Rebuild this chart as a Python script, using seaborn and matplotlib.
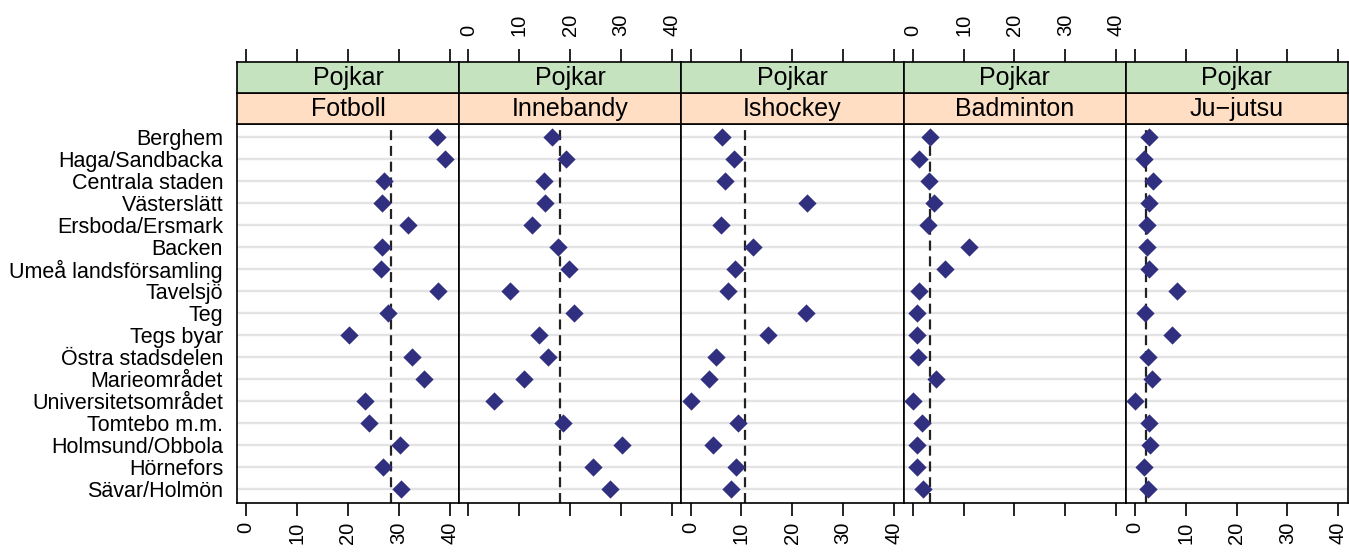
import matplotlib
matplotlib.use("Agg")
import matplotlib.pyplot as plt
import seaborn as sns
import pandas as pd

# ---------------- data ----------------
areas = ["Berghem", "Haga/Sandbacka", "Centrala staden", "Västerslätt",
         "Ersboda/Ersmark", "Backen", "Umeå landsförsamling", "Tavelsjö",
         "Teg", "Tegs byar", "Östra stadsdelen", "Marieområdet",
         "Universitetsområdet", "Tomtebo m.m.", "Holmsund/Obbola",
         "Hörnefors", "Sävar/Holmön"]
sports = ["Fotboll", "Innebandy", "Ishockey", "Badminton", "Ju\u2212jutsu"]
gender = "Pojkar"

fotboll = [37.5, 39.2, 27.2, 26.8, 31.9, 26.7, 26.5, 37.8, 27.9, 20.2,
           32.6, 34.9, 23.3, 24.2, 30.2, 26.9, 30.4]
innebandy = [16.5, 19.3, 14.9, 15.1, 12.5, 17.6, 19.7, 8.2, 20.8, 13.8,
             15.6, 11.0, 5.0, 18.6, 30.3, 24.6, 27.9]
ishockey = [6.1, 8.6, 6.7, 22.9, 5.9, 12.3, 8.7, 7.3, 22.7, 15.3,
            5.0, 3.6, 0.0, 9.4, 4.5, 8.9, 8.0]
badminton = [3.4, 1.2, 3.2, 4.1, 3.0, 11.1, 6.3, 1.2, 0.9, 0.9,
             1.1, 4.6, 0.0, 1.9, 0.9, 0.9, 2.0]
jujutsu = [2.8, 1.7, 3.6, 2.8, 2.4, 2.4, 2.8, 8.3, 1.9, 7.3,
           2.6, 3.4, 0.0, 2.7, 3.0, 1.8, 2.6]
reference = [28.4, 18.1, 10.8, 3.3, 2.1]   # dashed reference lines
x_ticks = [0, 10, 20, 30, 40]

series = [fotboll, innebandy, ishockey, badminton, jujutsu]
df = pd.concat([pd.DataFrame({"area": areas, "value": v, "sport": s})
                for s, v in zip(sports, series)], ignore_index=True)

# ---------------- style ----------------
sns.set_theme(style="white")
plt.rcParams['font.family'] = ['Liberation Sans', 'DejaVu Sans']

W, H = 1349, 552
fig = plt.figure(figsize=(W / 100, H / 100), dpi=100)

def fx(px):
    return px / W

def fy(py):
    return 1 - py / H

left0, right = 237, 1348
pw = (right - left0) / 5
ptop, pbot = 124, 502.5
orange_top = 93
green_top = 62

marker_col = "#312F7F"
green = "#C6E3C0"
orange = "#FFDEC4"
spine_lw = 1.2
xlim = (-1.8, 41.9)
tick_fs = 14.5

for i, sport in enumerate(sports):
    x0 = left0 + i * pw
    ax = fig.add_axes([fx(x0), fy(pbot), pw / W, (pbot - ptop) / H])
    sub = df[df["sport"] == sport]
    sns.stripplot(data=sub, x="value", y="area", order=areas, orient="h",
                  jitter=False, marker="D", size=9.3, color=marker_col,
                  linewidth=0, ax=ax, zorder=3)
    ax.axvline(reference[i], color="#222222", lw=1.6, ls=(0, (4.5, 2.6)), zorder=2)
    ax.set_xlim(*xlim)
    ax.set_ylim(len(areas) - 1 + 0.6, -0.6)
    ax.set_xticks(x_ticks)
    ax.set_xticklabels([str(t) for t in x_ticks], rotation=90)
    ax.set_xlabel("")
    ax.set_ylabel("")
    ax.yaxis.grid(True, color="#E3E3E3", lw=1.7)
    ax.xaxis.grid(False)
    ax.set_axisbelow(True)
    ax.tick_params(axis="x", bottom=True, top=False, direction="out",
                   length=9, width=spine_lw, color="black", pad=5,
                   labelbottom=(i % 2 == 0), labelcolor="black",
                   labelsize=tick_fs)
    if i == 0:
        ax.tick_params(axis="y", left=True, length=0, pad=10,
                       labelsize=15.5, labelcolor="black")
    else:
        ax.tick_params(axis="y", left=False, length=0, labelleft=False)
    for sp in ax.spines.values():
        sp.set_visible(True)
        sp.set_color("black")
        sp.set_linewidth(spine_lw)

    # orange strip (sport)
    axo = fig.add_axes([fx(x0), fy(ptop), pw / W, (ptop - orange_top) / H])
    axo.set_facecolor(orange)
    axo.set_xticks([])
    axo.set_yticks([])
    axo.text(0.5, 0.47, sport, transform=axo.transAxes, ha="center",
             va="center", fontsize=18, color="black")
    for sp in axo.spines.values():
        sp.set_visible(True)
        sp.set_color("black")
        sp.set_linewidth(spine_lw)

    # green strip (gender) with top ticks
    axg = fig.add_axes([fx(x0), fy(orange_top), pw / W, (orange_top - green_top) / H])
    axg.set_facecolor(green)
    axg.set_xlim(*xlim)
    axg.set_yticks([])
    axg.set_xticks(x_ticks)
    axg.set_xticklabels([str(t) for t in x_ticks], rotation=90)
    axg.tick_params(axis="x", top=True, bottom=False, labelbottom=False,
                    labeltop=(i % 2 == 1), direction="out", length=9.5,
                    width=spine_lw, color="black", pad=9, labelcolor="black",
                    labelsize=tick_fs)
    axg.text(0.5, 0.47, gender, transform=axg.transAxes, ha="center",
             va="center", fontsize=18, color="black")
    for sp in axg.spines.values():
        sp.set_visible(True)
        sp.set_color("black")
        sp.set_linewidth(spine_lw)

fig.savefig("out.png", dpi=100, facecolor="white")
